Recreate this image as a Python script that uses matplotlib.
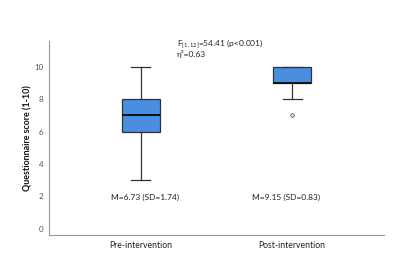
import matplotlib
matplotlib.use("Agg")
import matplotlib.pyplot as plt

categories = ["Pre-intervention", "Post-intervention"]
# box stats: whislo, q1, med, q3, whishi, fliers
whislo = [3, 8]
q1 = [6, 9]
med = [7, 9]
q3 = [8, 10]
whishi = [10, 10]
fliers = [[], [7]]
mean_labels = ["M=6.73 (SD=1.74)", "M=9.15 (SD=0.83)"]
stat_line1 = r"F$_{[1,12]}$=54.41 (p<0.001)"
stat_line2 = "η²=0.63"
yticks = [0, 2, 4, 6, 8, 10]

plt.rcParams['font.family'] = ['Lato', 'DejaVu Sans']
plt.rcParams['mathtext.fontset'] = 'custom'
plt.rcParams['mathtext.rm'] = 'Lato'
plt.rcParams['mathtext.it'] = 'Lato'

fig = plt.figure(figsize=(3.98, 2.65), dpi=100)
ax = fig.add_axes([49/398, 1-235/265, (384-49)/398, (235-41)/265])

stats = []
for i in range(2):
    stats.append(dict(whislo=whislo[i], q1=q1[i], med=med[i], q3=q3[i],
                      whishi=whishi[i], fliers=fliers[i], label=categories[i]))

ax.bxp(stats, positions=[0, 1], widths=0.25, patch_artist=True,
       boxprops=dict(facecolor="#4A8EE2", edgecolor="#333333", linewidth=0.9),
       medianprops=dict(color="#111111", linewidth=1.4),
       whiskerprops=dict(color="#333333", linewidth=0.9),
       capprops=dict(color="#333333", linewidth=0.9),
       capwidths=0.125,
       flierprops=dict(marker="o", markersize=2.5, markerfacecolor="white",
                       markeredgecolor="#444444", markeredgewidth=0.6))

ax.set_xlim(-0.608, 1.608)
ax.set_ylim(-0.4, 11.6)
ax.set_yticks(yticks)
ax.set_xticks([0, 1])
ax.set_xticklabels(categories, fontsize=6.2, color="#222222")
ax.tick_params(axis="y", length=0, labelsize=5.8, labelcolor="#555555", pad=4)
ax.tick_params(axis="x", length=0, pad=4)
for s in ["top", "right"]:
    ax.spines[s].set_visible(False)
for s in ["left", "bottom"]:
    ax.spines[s].set_color("#999999")
    ax.spines[s].set_linewidth(0.8)

ax.set_ylabel("Questionnaire score (1-10)", fontsize=6.4, fontweight="bold",
              color="#111111", labelpad=1)

for i, t in enumerate(mean_labels):
    ax.text(i + (0.027 if i == 0 else -0.04), 1.9, t, ha="center", va="center",
            fontsize=6.0, color="#222222")

ax.text(0.241, 11.45, stat_line1, ha="left", va="center", fontsize=6.0, color="#222222")
ax.text(0.241, 10.8, stat_line2, ha="left", va="center", fontsize=6.0, color="#222222")

fig.savefig("out.png", dpi=100, facecolor="white")
